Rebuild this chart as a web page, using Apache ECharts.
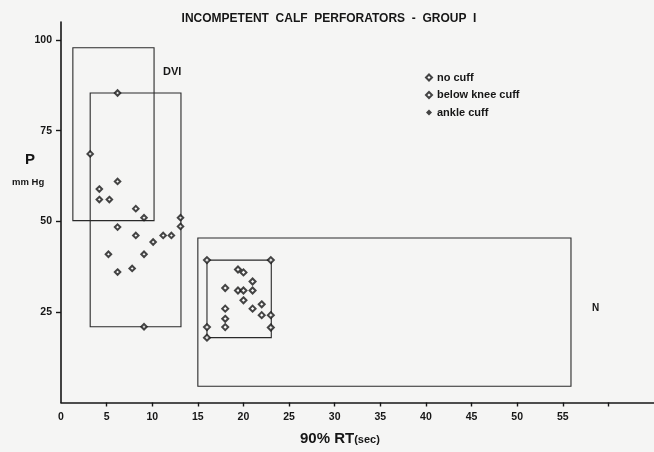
<!DOCTYPE html>
<html>
<head>
<meta charset="utf-8">
<script src="https://cdn.jsdelivr.net/npm/echarts@6/dist/echarts.min.js"></script>
<style>
html,body{margin:0;padding:0;background:#f5f5f4;}
#c{width:654px;height:452px;}
</style>
</head>
<body>
<div id="c"></div>
<script>
// ---- data ----
const titleText = 'INCOMPETENT  CALF  PERFORATORS  -  GROUP  I';
const seriesNames = ['no cuff', 'below knee cuff', 'ankle cuff'];
const xTickLabels = [0, 5, 10, 15, 20, 25, 30, 35, 40, 45, 50, 55];
const xTicks = [5, 10, 15, 20, 25, 30, 35, 40, 45, 50, 55, 60];
const yTickLabels = [25, 50, 75, 100];

// DVI group (no cuff) [RT sec, P mmHg]
const noCuff = [
  [6.2, 85.4], [3.2, 68.6], [6.2, 61.0], [4.2, 58.9], [4.2, 56.0], [5.3, 56.0],
  [8.2, 53.5], [9.1, 51.0], [13.1, 51.0], [13.1, 48.6], [6.2, 48.4], [8.2, 46.1],
  [11.2, 46.1], [12.1, 46.1], [10.1, 44.3], [5.2, 40.9], [9.1, 40.9], [7.8, 37.0],
  [6.2, 36.0], [9.1, 20.9]
];
// N group
const belowKnee = [
  [16.0, 39.3], [23.0, 39.3], [19.4, 36.7], [20.0, 35.9], [21.0, 33.4], [18.0, 31.6],
  [19.4, 30.9], [20.0, 30.9], [21.0, 30.9], [20.0, 28.2], [22.0, 27.1], [18.0, 25.9],
  [21.0, 25.9], [22.0, 24.1], [23.0, 24.1], [18.0, 23.1], [16.0, 20.8], [18.0, 20.8],
  [23.0, 20.7], [16.0, 17.9]
];
const ankleCuff = [];

// range boxes [xMin, xMax, yMin, yMax]
const boxes = [
  [1.3, 10.2, 50.2, 97.9],
  [3.2, 13.15, 20.9, 85.4],
  [15.0, 55.9, 4.5, 45.4],
  [16.0, 23.05, 17.9, 39.3]
];

const FONT = '"Liberation Sans", Arial, sans-serif';
const INK = '#161616';

const chart = echarts.init(document.getElementById('c'), null, {renderer: 'canvas'});
chart.setOption({
  backgroundColor: '#f5f5f4',
  animation: false,
  title: {
    text: titleText,
    left: 324, top: 8, textAlign: 'center',
    textStyle: {fontFamily: FONT, fontWeight: 'bold', fontSize: 12, color: INK}
  },
  legend: {
    orient: 'vertical', left: 420, top: 66, itemGap: 4.5,
    itemWidth: 6, itemHeight: 6,
    data: [
      {name: seriesNames[0], icon: 'emptyDiamond', itemStyle: {color: INK, borderColor: INK, borderWidth: 1.1}},
      {name: seriesNames[1], icon: 'emptyDiamond', itemStyle: {color: INK, borderColor: INK, borderWidth: 1.9}},
      {name: seriesNames[2], icon: 'diamond', itemStyle: {color: INK}}
    ],
    textStyle: {fontFamily: FONT, fontWeight: 'bold', fontSize: 11, color: INK, lineHeight: 13, padding: [0,0,0,0]},
    selectedMode: false
  },
  grid: {left: 61, right: 0, top: 22, bottom: 49.5, containLabel: false},
  xAxis: {
    type: 'value', min: 0, max: 65,
    axisLine: {show: true, lineStyle: {color: INK, width: 1.6}},
    axisTick: {show: true, length: 4, customValues: xTicks, lineStyle: {color: INK, width: 1.4}},
    axisLabel: {customValues: xTickLabels, margin: 9, fontFamily: FONT, fontWeight: 'bold', fontSize: 10.5, color: INK},
    splitLine: {show: false}
  },
  yAxis: {
    type: 'value', min: 0, max: 105,
    axisLine: {show: true, lineStyle: {color: INK, width: 1.6}},
    axisTick: {show: true, length: 5, customValues: yTickLabels, lineStyle: {color: INK, width: 1.4}},
    axisLabel: {customValues: yTickLabels, margin: 9, fontFamily: FONT, fontWeight: 'bold', fontSize: 10.5, color: INK},
    splitLine: {show: false}
  },
  graphic: [
    {type: 'text', left: 25, top: 152, style: {text: 'P', font: 'bold 15px ' + FONT, fill: INK}},
    {type: 'text', left: 12, top: 177, style: {text: 'mm Hg', font: 'bold 9.5px ' + FONT, fill: INK}},
    {type: 'text', left: 163, top: 66, style: {text: 'DVI', font: 'bold 11px ' + FONT, fill: INK}},
    {type: 'text', left: 592, top: 303, style: {text: 'N', font: 'bold 10px ' + FONT, fill: INK}},
    {type: 'text', left: 300, top: 431, style: {
      text: '{a|90% RT}{b|(sec)}',
      rich: {
        a: {fontFamily: FONT, fontWeight: 'bold', fontSize: 15, fill: INK, color: INK},
        b: {fontFamily: FONT, fontWeight: 'bold', fontSize: 11, fill: INK, color: INK, padding: [3,0,0,0]}
      }
    }}
  ],
  series: [
    {
      name: 'boxes', type: 'custom', silent: true, z: 1,
      data: boxes,
      renderItem: function (params, api) {
        const p0 = api.coord([api.value(0), api.value(3)]);
        const p1 = api.coord([api.value(1), api.value(2)]);
        return {
          type: 'rect',
          shape: {x: p0[0], y: p0[1], width: p1[0] - p0[0], height: p1[1] - p0[1]},
          style: {fill: 'none', stroke: '#2a2a2a', lineWidth: 1.1}
        };
      },
      encode: {x: [0, 1], y: [2, 3]}
    },
    {
      name: seriesNames[0], type: 'scatter', z: 3,
      symbol: 'emptyDiamond', symbolSize: 5.5,
      itemStyle: {color: INK, borderColor: INK, borderWidth: 1.2},
      data: noCuff
    },
    {
      name: seriesNames[1], type: 'scatter', z: 3,
      symbol: 'emptyDiamond', symbolSize: 6,
      itemStyle: {color: INK, borderColor: INK, borderWidth: 2},
      data: belowKnee
    },
    {
      name: seriesNames[2], type: 'scatter', z: 3,
      symbol: 'diamond', symbolSize: 6,
      itemStyle: {color: INK},
      data: ankleCuff
    }
  ]
});
</script>
</body>
</html>
